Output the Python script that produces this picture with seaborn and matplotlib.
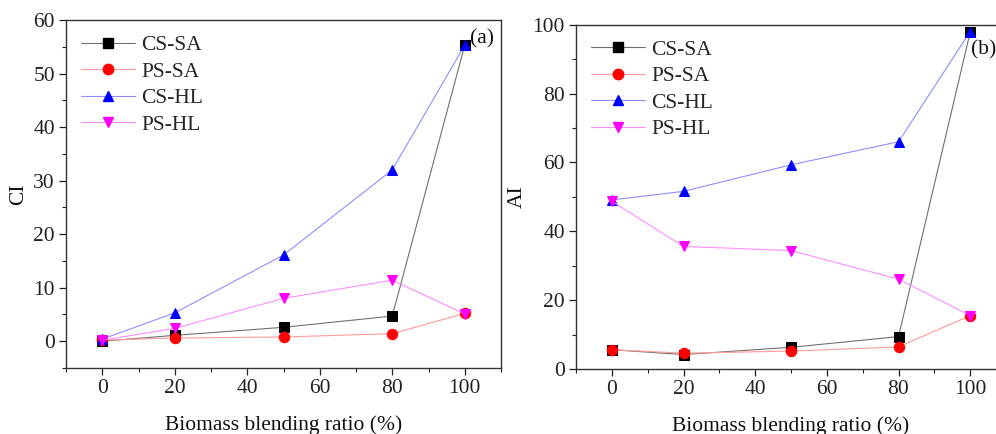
import matplotlib
matplotlib.use("Agg")
import matplotlib.pyplot as plt
import seaborn as sns
import numpy as np
import pandas as pd
from matplotlib.ticker import MultipleLocator
from matplotlib.lines import Line2D

# ---- data ----
ratio = [0, 20, 50, 80, 100]
series_names = ["CS-SA", "PS-SA", "CS-HL", "PS-HL"]

ci_cs_sa = [0.0, 1.1, 2.6, 4.7, 55.3]
ci_ps_sa = [0.2, 0.6, 0.8, 1.4, 5.2]
ci_cs_hl = [0.4, 5.3, 16.1, 32.0, 55.3]
ci_ps_hl = [0.2, 2.4, 8.0, 11.4, 5.1]

ai_cs_sa = [5.6, 4.2, 6.3, 9.4, 97.8]
ai_ps_sa = [5.6, 4.6, 5.2, 6.4, 15.5]
ai_cs_hl = [49.1, 51.6, 59.3, 66.0, 98.0]
ai_ps_hl = [48.7, 35.6, 34.4, 26.1, 15.5]

xticks = [0, 20, 40, 60, 80, 100]

sns.set_theme(style="ticks")
plt.rcParams["font.family"] = ["Liberation Serif", "DejaVu Serif"]
plt.rcParams["mathtext.fontset"] = "stix"

FS = 15.5
marker_colors = ["black", "red", "blue", "magenta"]
line_colors = ["#707070", "#ff9a9a", "#8e8eff", "#ff8eff"]
markers = ["s", "o", "^", "v"]

fig = plt.figure(figsize=(9.96, 4.34), dpi=100)
axL = fig.add_axes([66/996, 1-368/434, 435/996, 348/434])
axR = fig.add_axes([576/996, 1-369/434, 430/996, 344.3/434])

def draw(ax, data, ylim, ymaj, ymin, ylabel, tag, tagpos):
    for vals, name, mc, lc, mk in zip(data, series_names, marker_colors, line_colors, markers):
        df = pd.DataFrame({"x": ratio, "y": vals})
        sns.lineplot(data=df, x="x", y="y", ax=ax, color=lc, linewidth=0.8,
                     marker=mk, markersize=7.5, markerfacecolor=mc,
                     markeredgecolor=mc, label=name, legend=False)
    ax.set_xlim(-10, 110)
    ax.set_ylim(*ylim)
    ax.set_xticks(xticks)
    ax.xaxis.set_minor_locator(MultipleLocator(10))
    ax.yaxis.set_major_locator(MultipleLocator(ymaj))
    ax.yaxis.set_minor_locator(MultipleLocator(ymin))
    ax.tick_params(axis="both", which="major", direction="out", length=5,
                   width=0.9, labelsize=FS, colors="#222222", pad=3)
    ax.tick_params(axis="both", which="minor", direction="out", length=3,
                   width=0.8, colors="#222222")
    for s in ax.spines.values():
        s.set_color("#333333")
        s.set_linewidth(1.0)
    ax.set_xlabel("Biomass blending ratio (%)", fontsize=FS, labelpad=12, color="#111111")
    ax.set_ylabel(ylabel, fontsize=FS, color="#111111", labelpad=4)
    ax.set_facecolor("white")
    handles = [Line2D([0], [0], color=lc, lw=0.8, marker=mk, markersize=7.5,
                      markerfacecolor=mc, markeredgecolor=mc)
               for mc, lc, mk in zip(marker_colors, line_colors, markers)]
    ax.legend(handles, series_names, loc="upper left", frameon=False, fontsize=FS,
              handlelength=2.5, labelspacing=0.3, handletextpad=0.3,
              borderaxespad=0.3, borderpad=0.4)
    ax.text(tagpos[0], tagpos[1], tag, fontsize=FS, va="center", ha="left", color="#111111")

draw(axL, [ci_cs_sa, ci_ps_sa, ci_cs_hl, ci_ps_hl], (-5, 60), 10, 5, "CI", "(a)", (101.5, 56.5))
draw(axR, [ai_cs_sa, ai_ps_sa, ai_cs_hl, ai_ps_hl], (0, 100), 20, 10, "AI", "(b)", (100.2, 92.8))

fig.savefig("out.png", dpi=100, facecolor="white")
